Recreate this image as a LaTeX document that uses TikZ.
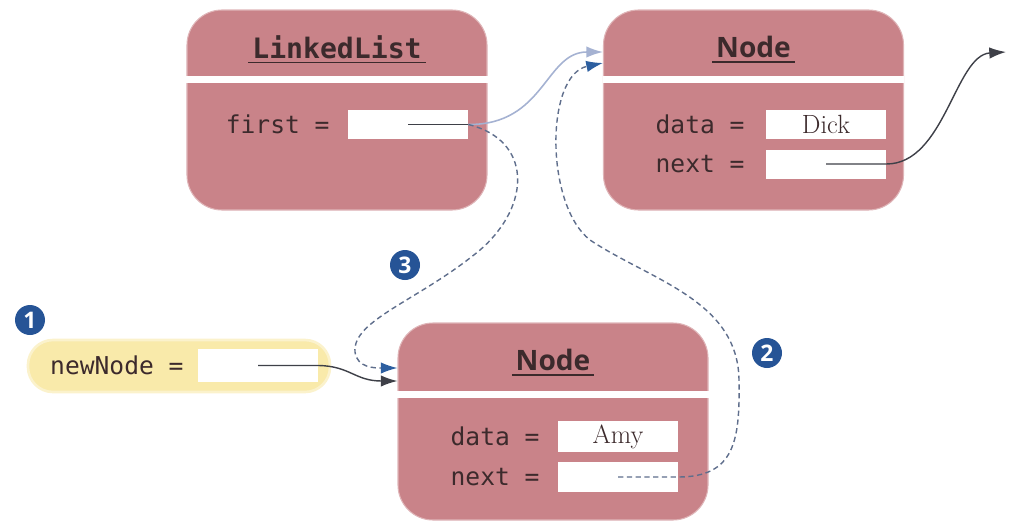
\documentclass[tikz,border=0pt]{standalone}
\usepackage{fontspec}
\setmonofont{DejaVu Sans Mono}
\newfontfamily\titlefont{Open Sans}
\usetikzlibrary{arrows.meta, positioning, calc}
\definecolor{objpink}{RGB}{201, 131, 137}
\definecolor{varyellow}{RGB}{249, 234, 170}
\definecolor{inkdark}{RGB}{60, 42, 44}
\definecolor{badgeblue}{RGB}{38, 84, 150}
\definecolor{ptrgray}{RGB}{62, 64, 72}
\definecolor{dashblue}{RGB}{95, 110, 140}
\definecolor{tipblue}{RGB}{45, 95, 160}
\definecolor{oldlight}{RGB}{165, 178, 210}

\begin{document}
\begin{tikzpicture}[x=0.2mm, y=-0.2mm,
    obj/.style={fill=objpink, draw=objpink!60!white, line width=0.6pt,
          rounded corners=0.7cm, minimum width=6cm, minimum height=4cm},
    field/.style={fill=white, minimum width=2.4cm, minimum height=0.58cm,
          inner sep=0pt, font=\fontsize{15}{18}\selectfont, text=inkdark},
    code/.style={font=\ttfamily\fontsize{14}{17}\selectfont, text=inkdark, inner sep=1pt},
    title/.style={text=inkdark, inner sep=2pt},
    divider/.style={white, line width=3.5pt},
    underl/.style={inkdark, line width=1.1pt},
    badge/.style={circle, fill=badgeblue, text=white, minimum size=0.6cm,
          inner sep=0pt, font=\titlefont\bfseries\fontsize{13}{13}\selectfont},
    ptr/.style={ptrgray, line width=0.8pt, -{Latex[length=9.5pt, width=6.5pt]}},
    oldptr/.style={oldlight, line width=0.9pt, -{Latex[length=9.5pt, width=6.5pt]}},
    newptr/.style={dashblue, line width=0.8pt, dash pattern=on 3pt off 2pt,
          -{Latex[color=tipblue, length=9.5pt, width=6.5pt]}}]
  \useasboundingbox (0,0) rectangle (1010,523);

  % list object
  \node[obj] (list) at (337,110) {};
  \draw[divider] ([yshift=-1.4cm]list.north west) -- ([yshift=-1.4cm]list.north east);
  \node[title, font=\ttfamily\bfseries\fontsize{16}{18}\selectfont] (listtitle) at (337,47) {LinkedList};
  \draw[underl] (listtitle.south west) -- (listtitle.south east);
  \node[field] (first) at (408,124.5) {};
  \node[code, left=0.32cm of first] (firstlbl) {first =};

  % node Dick
  \node[obj] (dick) at (753.5,110) {};
  \draw[divider] ([yshift=-1.4cm]dick.north west) -- ([yshift=-1.4cm]dick.north east);
  \node[title, font=\titlefont\bfseries\fontsize{16}{18}\selectfont] (dicktitle) at (753.5,47) {Node};
  \draw[underl] (dicktitle.south west) -- (dicktitle.south east);
  \node[field] (dickdata) at (826,124.5) {Dick};
  \node[code, left=0.38cm of dickdata] (dickdatalbl) {data =};
  \node[field] (dicknext) at (826,164) {};
  \node[code, left=0.38cm of dicknext] (dicknextlbl) {next =};

  % node Amy
  \node[obj, minimum width=6.2cm, minimum height=3.94cm] (amy) at (553,421.5) {};
  \draw[divider] ([yshift=-1.44cm]amy.north west) -- ([yshift=-1.44cm]amy.north east);
  \node[title, font=\titlefont\bfseries\fontsize{16}{18}\selectfont] (amytitle) at (553,360) {Node};
  \draw[underl] (amytitle.south west) -- (amytitle.south east);
  \node[field, minimum height=0.62cm] (amydata) at (618,436.5) {Amy};
  \node[code, left=0.32cm of amydata] (amydatalbl) {data =};
  \node[field, minimum height=0.6cm] (amynext) at (618,477) {};
  \node[code, left=0.32cm of amynext] (amynextlbl) {next =};

  % local variable
  \node[fill=varyellow, draw=varyellow!60!white, line width=1.5pt, rounded corners=0.5cm,
        minimum width=6.04cm, minimum height=1.04cm] (var) at (179,366) {};
  \node[field, minimum height=0.66cm] (varfield) at (258,365.5) {};
  \node[code, left=0.24cm of varfield] (varlbl) {newNode =};

  % step badges
  \node[badge] (one) at (30,320) {1};
  \node[badge] (two) at (767,353) {2};
  \node[badge] (three) at (405,265) {3};

  % pointers
  \coordinate (offpage) at (1006,52);
  \draw[ptr] (dicknext.center) -- (dicknext.east)
    .. controls (945,164) and (955,55) .. (offpage);
  \draw[oldptr] (first.east) .. controls (545,125) and (545,52) .. ([yshift=1.16cm]dick.west);
  \draw[ptrgray, line width=0.8pt] (first.center) -- (first.east);
  \draw[newptr] (first.east) .. controls (532,140) and (532,205) .. (480,250)
    .. controls (420,300) and (352,320) .. (355,352)
    .. controls (357,368) and (375,368) .. ([yshift=1.07cm]amy.west);
  \draw[newptr] (amynext.center) -- (amynext.east)
    .. controls (735,477) and (740,440) .. (739,380)
    .. controls (738,300) and (650,280) .. (590,240)
    .. controls (545,205) and (545,75) .. ([yshift=0.94cm]dick.west);
  \draw[ptr] (varfield.center) -- (varfield.east)
    .. controls (350,366) and (355,381) .. ([yshift=0.81cm]amy.west);
\end{tikzpicture}
\end{document}
